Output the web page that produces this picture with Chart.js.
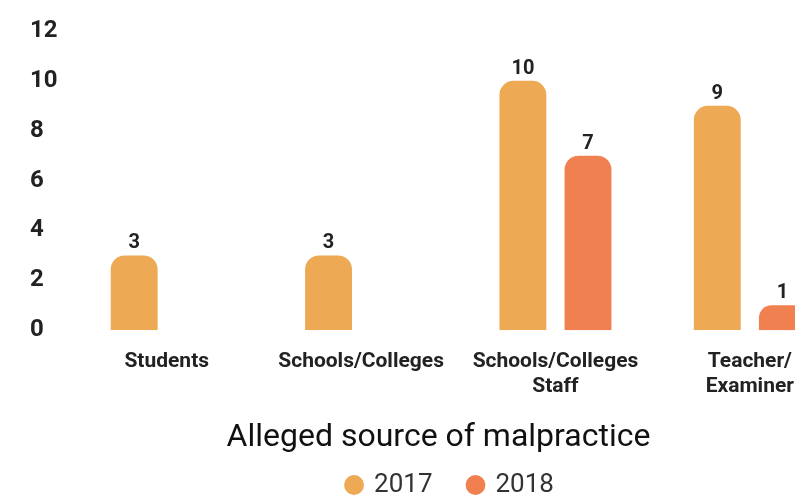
<!DOCTYPE html>
<html>
<head>
<meta charset="utf-8">
<script src="https://cdn.jsdelivr.net/npm/chart.js@4"></script>
<style>
  html, body { margin: 0; padding: 0; background: #fff; overflow: hidden; }
  #wrap { width: 898px; height: 495px; }
</style>
</head>
<body>
<div id="wrap"><canvas id="grafico" width="898" height="495"></canvas></div>
<script>
// categorias e valores por ano
const fontes = ["Students", "Schools/Colleges", ["Schools/Colleges", "Staff"], ["Teacher/", "Examiner"]];
const valores2017 = [3, 3, 10, 9];
const valores2018 = [null, null, 7, 1];
const ticksY = [0, 2, 4, 6, 8, 10, 12];

const corTexto = '#222';

// escreve o valor em cima de cada barra
const rotulosBarras = {
  id: 'rotulosBarras',
  afterDatasetsDraw(chart) {
    const ctx = chart.ctx;
    ctx.save();
    ctx.font = 'bold 20px Roboto';
    ctx.fillStyle = corTexto;
    ctx.textAlign = 'center';
    ctx.textBaseline = 'bottom';
    chart.data.datasets.forEach((ds, i) => {
      chart.getDatasetMeta(i).data.forEach((barra, j) => {
        const v = ds.data[j];
        if (v === null || v === undefined) return;
        ctx.fillText(String(v), barra.x, barra.y - 2);
      });
    });
    ctx.restore();
  }
};

// empurra a legenda um pouco para a direita
const deslocaLegenda = {
  id: 'deslocaLegenda',
  afterLayout(chart) {
    const leg = chart.legend;
    if (!leg) return;
    leg.left += 12;
    leg.right += 12;
  }
};

new Chart(document.getElementById('grafico'), {
  type: 'bar',
  data: {
    labels: fontes,
    datasets: [
      {
        label: '2017',
        data: valores2017,
        backgroundColor: '#EDA953',
        borderRadius: 14,
        categoryPercentage: 0.67,
        barPercentage: 0.72
      },
      {
        label: '2018',
        data: valores2018,
        backgroundColor: '#F0804F',
        borderRadius: 14,
        categoryPercentage: 0.67,
        barPercentage: 0.72
      }
    ]
  },
  options: {
    responsive: false,
    animation: false,
    layout: { padding: { left: 30, right: 51, top: 31, bottom: -13 } },
    scales: {
      x: {
        grid: { display: false, drawTicks: false },
        border: { display: false },
        ticks: {
          color: corTexto,
          font: { family: 'Roboto', size: 21, weight: 'bold' },
          padding: 19,
          maxRotation: 0,
          autoSkip: false
        }
      },
      y: {
        min: 0,
        max: 12,
        grid: { display: false, drawTicks: false },
        border: { display: false },
        afterBuildTicks: (eixo) => { eixo.ticks = ticksY.map(v => ({ value: v })); },
        ticks: {
          color: corTexto,
          crossAlign: 'far',
          padding: 6,
          font: { family: 'Roboto', size: 24, weight: 'bold' }
        }
      }
    },
    plugins: {
      // título do eixo x, entre o eixo e a legenda
      title: {
        display: true,
        position: 'bottom',
        weight: 500,
        text: 'Alleged source of malpractice',
        color: '#111',
        font: { family: 'Roboto', size: 32, weight: 'normal' },
        padding: { top: 0, bottom: -21 }
      },
      legend: {
        position: 'bottom',
        labels: {
          usePointStyle: true,
          pointStyle: 'circle',
          boxWidth: 14,
          boxHeight: 14,
          padding: 36,
          color: '#333',
          font: { family: 'Roboto', size: 26 }
        }
      },
      tooltip: { enabled: false }
    }
  },
  plugins: [rotulosBarras, deslocaLegenda]
});
</script>
</body>
</html>
